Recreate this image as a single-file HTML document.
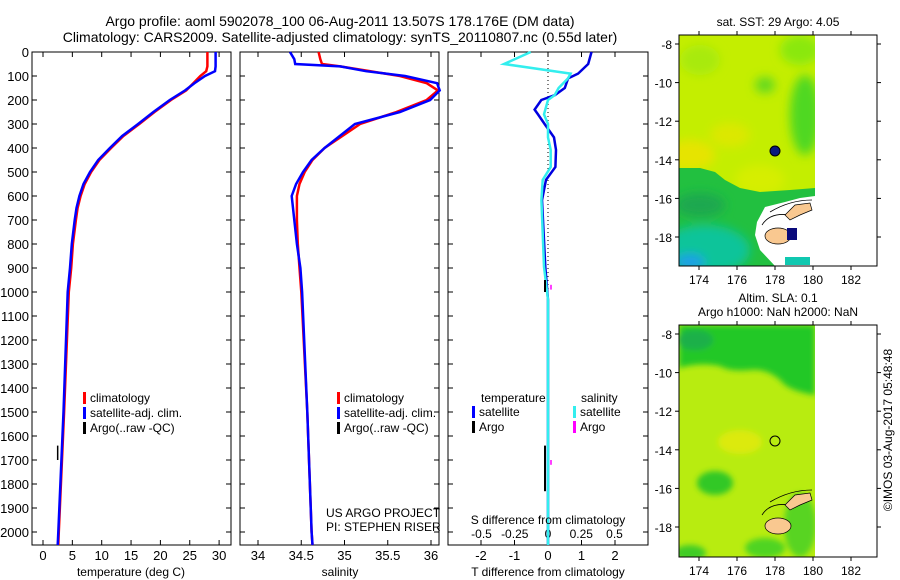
<!DOCTYPE html>
<html><head><meta charset="utf-8"><style>
html,body{margin:0;padding:0;background:#fff;}
svg{display:block;font-family:"Liberation Sans",sans-serif;}
text{fill:#000;}
</style></head><body>
<svg id="fig" width="900" height="580" viewBox="0 0 900 580">
<defs>
<filter id="blur" x="-20%" y="-20%" width="140%" height="140%"><feGaussianBlur stdDeviation="5"/></filter>
<filter id="blur2" x="-10%" y="-10%" width="120%" height="120%"><feGaussianBlur stdDeviation="3"/></filter>
<clipPath id="m1clip"><rect x="679" y="35" width="136" height="231"/></clipPath>
<clipPath id="m2clip"><rect x="679" y="325" width="136" height="232"/></clipPath>
</defs>
<text x="340" y="26" font-size="14" text-anchor="middle">Argo profile: aoml 5902078_100 06-Aug-2011 13.507S 178.176E (DM data)</text>
<text x="340" y="42" font-size="14" text-anchor="middle">Climatology: CARS2009. Satellite-adjusted climatology: synTS_20110807.nc (0.55d later)</text>
<g id="p1"></g>
<g id="p2"></g>
<g id="p3"></g>

<!-- Map 1 -->
<g>
<text x="778" y="26" font-size="12" text-anchor="middle">sat. SST: 29 Argo: 4.05</text>
<g clip-path="url(#m1clip)">
<rect x="679" y="35" width="136" height="231" fill="#c4ee00"/>
<g filter="url(#blur)">
<ellipse cx="690" cy="155" rx="25" ry="15" fill="#e6e400"/>
<ellipse cx="730" cy="135" rx="20" ry="12" fill="#dce800"/>
<ellipse cx="760" cy="180" rx="25" ry="15" fill="#d6ee00"/>
<ellipse cx="805" cy="115" rx="15" ry="40" fill="#50d820"/>
<ellipse cx="800" cy="50" rx="20" ry="15" fill="#8ae810"/>
<ellipse cx="700" cy="60" rx="20" ry="15" fill="#a8ea10"/>
<ellipse cx="765" cy="85" rx="10" ry="8" fill="#60d820"/>
</g>
<polygon points="679,168 700,168 715,172 725,180 740,188 760,192 790,190 815,188 815,266 679,266" fill="#22c040"/>
<g filter="url(#blur)">
<ellipse cx="705" cy="250" rx="45" ry="25" fill="#10c49a"/>
<ellipse cx="690" cy="262" rx="15" ry="8" fill="#1a9ee8"/>
<ellipse cx="700" cy="205" rx="25" ry="12" fill="#1aa850"/>
</g>
<polygon points="757,222 765,207 785,202 800,198 815,196 815,266 775,266 760,250 755,235" fill="#fff"/>
<rect x="785" y="257" width="25" height="8" fill="#10c8b0"/>
</g>
<path d="M770 212 Q790 200 812 200 M762 225 Q770 212 790 215" fill="none" stroke="#000" stroke-width="0.8"/>
<polygon points="785,215 795,205 810,203 812,210 800,215 790,220" fill="#f9c890" stroke="#000" stroke-width="0.7"/>
<ellipse cx="778" cy="236" rx="13" ry="8" fill="#f9c890" stroke="#000" stroke-width="0.7"/>
<rect x="787" y="228" width="10" height="12" fill="#0a0a7a"/>
<circle cx="775" cy="151" r="5" fill="#0a1a80" stroke="#000" stroke-width="1"/>
<rect x="679" y="35" width="198" height="231" fill="none" stroke="#000" stroke-width="1"/>
<g id="m1ticks"></g>
</g>

<!-- Map 2 -->
<g>
<text x="778" y="302" font-size="12" text-anchor="middle">Altim. SLA: 0.1</text>
<text x="778" y="316" font-size="12" text-anchor="middle">Argo h1000: NaN h2000: NaN</text>
<g clip-path="url(#m2clip)">
<rect x="679" y="325" width="136" height="232" fill="#b8ec10"/>
<g filter="url(#blur2)">
<path d="M679 325 L815 325 L815 395 Q795 392 785 385 Q770 368 750 370 Q730 372 720 366 Q700 362 679 368 Z" fill="#22c828"/>
<ellipse cx="695" cy="340" rx="18" ry="10" fill="#1cb04a"/>
<ellipse cx="715" cy="483" rx="18" ry="12" fill="#30c828"/>
<ellipse cx="765" cy="548" rx="20" ry="10" fill="#50d420"/>
<ellipse cx="800" cy="525" rx="16" ry="32" fill="#58d420"/>
<ellipse cx="740" cy="442" rx="22" ry="12" fill="#dcea10"/>
<ellipse cx="690" cy="553" rx="16" ry="8" fill="#40cc28"/>
</g>
</g>
<path d="M770 502 Q790 490 812 490 M762 515 Q770 502 790 505" fill="none" stroke="#000" stroke-width="0.8"/>
<polygon points="785,505 795,495 810,493 812,500 800,505 790,510" fill="#f9c890" stroke="#000" stroke-width="0.7"/>
<ellipse cx="778" cy="526" rx="13" ry="8" fill="#f9c890" stroke="#000" stroke-width="0.7"/>
<circle cx="775" cy="441" r="5" fill="none" stroke="#000" stroke-width="1"/>
<rect x="679" y="325" width="198" height="232" fill="none" stroke="#000" stroke-width="1"/>
<g id="m2ticks"></g>
</g>
<text transform="translate(892,430) rotate(-90)" font-size="12" text-anchor="middle">©IMOS 03-Aug-2017 05:48:48</text>
</svg>
<script>
// ---- data ----
const depths = [0,40,60,80,100,130,160,200,250,300,350,400,450,500,550,600,650,700,800,900,1000,1500,2000,2054];
const tempClim = [28.0,28.0,28.0,27.8,26.8,25.6,24.4,21.8,19.0,16.4,13.7,11.6,9.6,8.2,7.1,6.4,5.9,5.6,5.1,4.8,4.4,3.6,2.7,2.6];
const tempSat  = [29.4,29.4,29.4,29.3,27.6,25.8,24.2,21.6,18.8,16.2,13.5,11.4,9.4,8.0,6.9,6.2,5.7,5.4,4.9,4.6,4.2,3.5,2.6,2.5];
const salDepths = [0,30,50,60,80,100,130,160,200,250,300,400,450,500,550,600,700,800,900,1000,1500,2000,2054];
const salClim = [34.70,34.72,34.74,34.95,35.30,35.64,35.95,36.08,35.95,35.60,35.18,34.77,34.63,34.54,34.48,34.45,34.45,34.46,34.48,34.50,34.57,34.62,34.63];
const salSat  = [34.37,34.42,34.43,34.95,35.25,35.70,36.07,36.10,35.99,35.64,35.12,34.77,34.62,34.52,34.44,34.39,34.42,34.45,34.49,34.51,34.57,34.62,34.63];
const diffDepths = [0,50,90,110,150,180,200,240,260,300,356,408,479,533,617,895,1033,2054];
const dT = [1.3,1.2,0.9,0.6,0.5,0.2,-0.2,-0.4,-0.3,-0.1,0.18,0.24,0.22,-0.06,-0.18,-0.08,0.0,0.0];
const dS = [-0.13,-0.33,0.17,0.15,0.08,0.05,0.0,-0.02,-0.03,0.0,0.0,0.02,0.02,-0.04,-0.05,-0.03,0.0,0.0];
const depthTicks = [0,100,200,300,400,500,600,700,800,900,1000,1100,1200,1300,1400,1500,1600,1700,1800,1900,2000];
const tempTicks = [0,5,10,15,20,25,30];
const salTicks = [34,34.5,35,35.5,36];
const tdTicks = [-2,-1,0,1,2];
const sdTicks = [-0.5,-0.25,0,0.25,0.5];
const sdTickLabels = ['-0.5','-0.25','0','0.25','0.5'];
const lonTicks = [174,176,178,180,182];
const latTicks = [-8,-10,-12,-14,-16,-18];

const NS='http://www.w3.org/2000/svg';
function mk(tag,attrs,parent,txt){const e=document.createElementNS(NS,tag);for(const k in attrs)e.setAttribute(k,attrs[k]);if(txt!==undefined)e.textContent=txt;parent.appendChild(e);return e;}
const TOP=52,BOT=545;
const yD = d => TOP + d*0.24;

function frame(g,x0,x1,name){
  const r=mk('rect',{x:x0,y:TOP,width:x1-x0,height:BOT-TOP,fill:'none',stroke:'#000','stroke-width':1},g);
  
  
}
function yTicks(g,x0,x1,labels){
  depthTicks.forEach(d=>{
    mk('line',{x1:x0,y1:yD(d),x2:x0+5,y2:yD(d),stroke:'#000'},g);
    mk('line',{x1:x1,y1:yD(d),x2:x1-5,y2:yD(d),stroke:'#000'},g);
    if(labels){const t=mk('text',{x:x0-3,y:yD(d)+5,'font-size':13,'text-anchor':'end'},g,String(d));
      
      }
  });
}
function xTicks(g,ticks,labels,xf,ly){
  ticks.forEach((v,i)=>{
    mk('line',{x1:xf(v),y1:BOT,x2:xf(v),y2:BOT-5,stroke:'#000'},g);
    mk('line',{x1:xf(v),y1:TOP,x2:xf(v),y2:TOP+5,stroke:'#000'},g);
    if(ly){const t=mk('text',{x:xf(v),y:ly,'font-size':13,'text-anchor':'middle'},g,labels[i]);
      
      }
  });
}
function line(g,ds,vs,xf,color,w,name){
  const pts=ds.map((d,i)=>xf(vs[i]).toFixed(1)+','+yD(d).toFixed(1)).join(' ');
  const p=mk('polyline',{points:pts,fill:'none',stroke:color,'stroke-width':w},g);
  
  
}
function legend(g,x,y,items){
  items.forEach((it,i)=>{
    mk('rect',{x:x,y:y+i*15-10,width:3,height:12,fill:it[1]},g);
    const t=mk('text',{x:x+7,y:y+i*15,'font-size':12},g,it[0]);
    
    
  });
}
// panel 1
const p1=document.getElementById('p1');
const xT = v => 43 + v*5.87;
frame(p1,32,231,'temperature-frame'); yTicks(p1,32,231,true);
xTicks(p1,tempTicks,tempTicks.map(String),xT,560);
line(p1,depths,tempClim,xT,'#f00',2.5,'temperature-climatology-line');
line(p1,depths,tempSat,xT,'#00f',2.5,'temperature-satellite-line');
mk('line',{x1:xT(2.5),y1:yD(1640),x2:xT(2.5),y2:yD(1700),stroke:'#000','stroke-width':1.5},p1);
mk('text',{x:131,y:576,'font-size':12,'text-anchor':'middle'},p1,'temperature (deg C)');
legend(p1,83,402,[['climatology','#f00'],['satellite-adj. clim.','#00f'],['Argo(..raw -QC)','#000']]);
// panel 2
const p2=document.getElementById('p2');
const xS = v => 258 + (v-34)*86.5;
frame(p2,240,439,'salinity-frame'); yTicks(p2,240,439,false);
xTicks(p2,salTicks,salTicks.map(String),xS,560);
line(p2,salDepths,salClim,xS,'#f00',2.5,'salinity-climatology-line');
line(p2,salDepths,salSat,xS,'#00f',2.5,'salinity-satellite-line');
mk('text',{x:340,y:576,'font-size':12,'text-anchor':'middle'},p2,'salinity');
legend(p2,337,402,[['climatology','#f00'],['satellite-adj. clim.','#00f'],['Argo(..raw -QC)','#000']]);
mk('text',{x:326,y:517,'font-size':12},p2,'US ARGO PROJECT');
mk('text',{x:326,y:531,'font-size':12},p2,'PI: STEPHEN RISER');
// panel 3
const p3=document.getElementById('p3');
const xTd = v => 548 + v*33.5;
const xSd = v => 548 + v*133;
frame(p3,448,648,'difference-frame'); yTicks(p3,448,648,false);
xTicks(p3,tdTicks,tdTicks.map(String),xTd,560);
sdTicks.forEach((v,i)=>{const t=mk('text',{x:xSd(v),y:538,'font-size':12,'text-anchor':'middle'},p3,sdTickLabels[i]);
  
  });
mk('line',{x1:548,y1:TOP,x2:548,y2:BOT,stroke:'#000','stroke-dasharray':'1,3'},p3);
line(p3,diffDepths,dT,xTd,'#0000e0',2.5,'t-diff-satellite-line');
line(p3,diffDepths,dS,xSd,'#33eeee',2.5,'s-diff-satellite-line');
[[950,1000],[1640,1830]].forEach(s=>mk('line',{x1:545,y1:yD(s[0]),x2:545,y2:yD(s[1]),stroke:'#000','stroke-width':2},p3));
[[970,990],[1700,1720]].forEach(s=>mk('line',{x1:551,y1:yD(s[0]),x2:551,y2:yD(s[1]),stroke:'#f0f','stroke-width':1.5},p3));
mk('text',{x:548,y:524,'font-size':12,'text-anchor':'middle'},p3,'S difference from climatology');
mk('text',{x:548,y:576,'font-size':12,'text-anchor':'middle'},p3,'T difference from climatology');
mk('text',{x:481,y:402,'font-size':12},p3,'temperature');
mk('text',{x:581,y:402,'font-size':12},p3,'salinity');
legend(p3,472,416,[['satellite','#00f'],['Argo','#000']]);
legend(p3,573,416,[['satellite','#33eeee'],['Argo','#f0f']]);
// map ticks
function mapTicks(id,top,bot,lat8){
  const g=document.getElementById(id);
  const xl = v => 699 + (v-174)*19;
  const yl = v => lat8 + (-8 - v)*19.3;
  lonTicks.forEach(v=>{
    mk('line',{x1:xl(v),y1:top,x2:xl(v),y2:top-4,stroke:'#000'},g);
    mk('line',{x1:xl(v),y1:bot,x2:xl(v),y2:bot+4,stroke:'#000'},g);
    const t=mk('text',{x:xl(v),y:bot+18,'font-size':12,'text-anchor':'middle'},g,String(v));
    
    
  });
  latTicks.forEach(v=>{
    mk('line',{x1:679,y1:yl(v),x2:675,y2:yl(v),stroke:'#000'},g);
    mk('line',{x1:877,y1:yl(v),x2:881,y2:yl(v),stroke:'#000'},g);
    const t=mk('text',{x:672,y:yl(v)+5,'font-size':12,'text-anchor':'end'},g,String(v));
    
    
  });
}
mapTicks('m1ticks',35,266,44);
mapTicks('m2ticks',325,557,334);
</script>
</body></html>
